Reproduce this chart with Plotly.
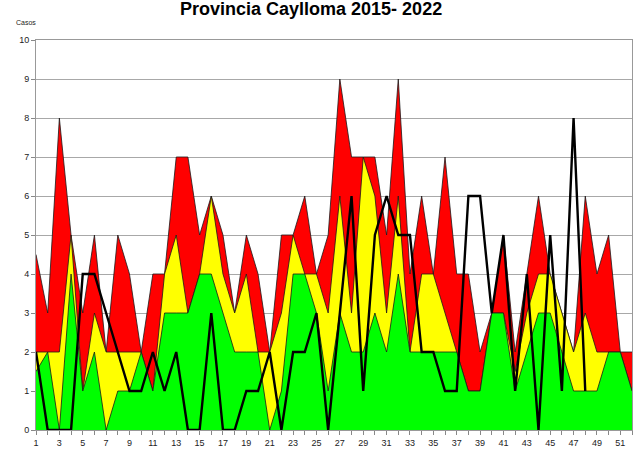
import plotly.graph_objects as go

weeks = list(range(1, 53))

# Upper limit (alarma / epidemia)
upper = [4.5, 3, 8, 5, 3, 5, 2, 5, 4, 2,
         4, 4, 7, 7, 5, 6, 5, 3, 5, 4,
         2, 5, 5, 6, 4, 5, 9, 7, 7, 7,
         5, 9, 4, 6, 4, 7, 4, 4, 2, 3,
         5, 2, 4, 6, 4, 3, 2, 6, 4, 5,
         2, 2]
# Median (seguridad)
median = [2, 2, 2, 5, 1, 3, 2, 2, 2, 2,
          1, 4, 5, 3, 4, 6, 4, 3, 4, 2,
          2, 3, 5, 4, 4, 3, 6, 3, 7, 6,
          3, 6, 2, 4, 4, 3, 2, 1, 1, 3,
          3, 1.5, 3, 4, 4, 3, 2, 3, 2, 2,
          2, 1]
# Lower limit (éxito)
lower = [1.5, 2, 0, 4, 1, 2, 0, 1, 1, 2,
         1, 3, 3, 3, 4, 4, 3, 2, 2, 2,
         0, 1, 4, 4, 3, 1, 3, 2, 2, 3,
         2, 4, 2, 2, 2, 2, 2, 1, 1, 3,
         3, 1, 2, 3, 3, 2, 1, 1, 1, 2,
         2, 1]
# Current year cases (weeks 1-48)
cases_weeks = list(range(1, 49))
cases = [2, 0, 0, 0, 4, 4, 3, 2, 1, 1,
         2, 1, 2, 0, 0, 3, 0, 0, 1, 1,
         2, 0, 2, 2, 3, 0, 3, 6, 1, 5,
         6, 5, 5, 2, 2, 1, 1, 6, 6, 3,
         5, 1, 4, 0, 5, 1, 8, 1]

x_tickvals = weeks
x_ticktext = [str(w) if w % 2 == 1 else "" for w in weeks]
y_tickvals = list(range(0, 11))

fig = go.Figure()
for vals, col in [(upper, "#FF0000"), (median, "#FFFF00"), (lower, "#00FF00")]:
    fig.add_trace(go.Scatter(
        x=weeks, y=vals, mode="lines", fill="tozeroy",
        fillcolor=col, line=dict(color="#1a1a1a", width=0.8),
        hoverinfo="skip", showlegend=False))

fig.add_trace(go.Scatter(
    x=cases_weeks, y=cases, mode="lines",
    line=dict(color="#000000", width=2.4),
    showlegend=False))

fig.update_layout(
    width=639, height=449,
    margin=dict(l=36, r=7, t=40, b=19, autoexpand=False),
    paper_bgcolor="white", plot_bgcolor="white",
    font=dict(family="Liberation Sans, Arial, sans-serif", size=9, color="#222"),
    xaxis=dict(range=[1, 52], tickvals=x_tickvals, ticktext=x_ticktext,
               ticks="outside", ticklen=4, tickcolor="#888",
               showgrid=False, zeroline=False, automargin=False,
               showline=True, linecolor="#999", linewidth=1, mirror=True,
               tickfont=dict(size=9)),
    yaxis=dict(range=[0, 10], tickvals=y_tickvals,
               ticks="outside", ticklen=4, tickcolor="#888",
               showgrid=True, gridcolor="#a8a8a8", gridwidth=1,
               zeroline=False, automargin=False,
               showline=True, linecolor="#999", linewidth=1, mirror=True,
               tickfont=dict(size=9)),
    annotations=[
        dict(text="<b>Provincia Caylloma 2015- 2022</b>", xref="paper", yref="paper",
             x=(311 - 36) / 596, y=1 + (40 - 9) / 390, xanchor="center", yanchor="middle",
             showarrow=False, font=dict(size=18, color="#000")),
        dict(text="Casos", xref="paper", yref="paper",
             x=(26 - 36) / 596, y=1 + (40 - 23) / 390, xanchor="center", yanchor="middle",
             showarrow=False, font=dict(size=7, color="#222")),
    ],
)

fig.write_html(
    "out.html",
    config={"displayModeBar": False},
    post_script="document.body.style.margin='0';document.body.style.padding='0';"
                "document.body.style.overflow='hidden';",
)
